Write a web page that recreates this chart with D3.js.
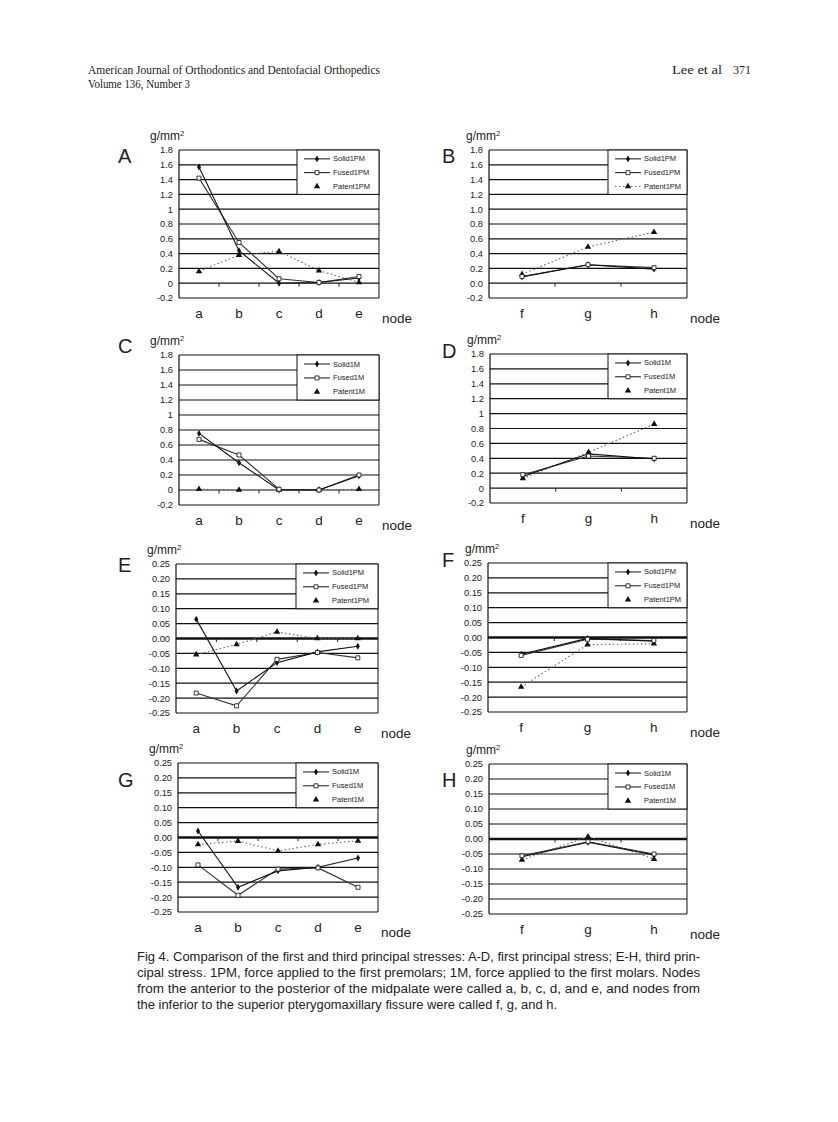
<!DOCTYPE html>
<html>
<head>
<meta charset="utf-8">
<script src="https://cdn.jsdelivr.net/npm/d3@7"></script>
<style>
  body { margin: 0; background: #fff; }
  svg text { font-family: "Liberation Sans", Arial, sans-serif; fill: #222; }
</style>
</head>
<body>
<svg id="page"></svg>
<script>
const W = 838, H = 1122;

// categories and ticks
const nodesMid = ["a", "b", "c", "d", "e"];
const nodesPtm = ["f", "g", "h"];
const ticksFirst = [-0.2, 0, 0.2, 0.4, 0.6, 0.8, 1, 1.2, 1.4, 1.6, 1.8];
const ticksThird = [-0.25, -0.2, -0.15, -0.1, -0.05, 0, 0.05, 0.1, 0.15, 0.2, 0.25];

// first principal stress, force on first premolars
const solidA = [1.57, 0.44, 0.0, 0.01, 0.07];
const fusedA = [1.42, 0.55, 0.06, 0.01, 0.09];
const patentA = [0.16, 0.38, 0.43, 0.17, 0.01];
const solidB = [0.085, 0.25, 0.19];
const fusedB = [0.09, 0.25, 0.21];
const patentB = [0.12, 0.49, 0.69];
// first principal stress, force on first molars
const solidC = [0.755, 0.364, 0.0, 0.0, 0.19];
const fusedC = [0.675, 0.467, 0.01, 0.0, 0.2];
const patentC = [0.01, 0.0, 0.0, 0.0, 0.01];
const solidD = [0.155, 0.46, 0.39];
const fusedD = [0.18, 0.43, 0.40];
const patentD = [0.13, 0.48, 0.86];
// third principal stress, first premolars
const solidE = [0.065, -0.176, -0.081, -0.045, -0.026];
const fusedE = [-0.183, -0.226, -0.07, -0.047, -0.065];
const patentE = [-0.054, -0.02, 0.022, 0.0, 0.0];
const solidF = [-0.056, -0.003, -0.012];
const fusedF = [-0.06, -0.006, -0.01];
const patentF = [-0.166, -0.024, -0.021];
// third principal stress, first molars
const solidG = [0.022, -0.167, -0.112, -0.1, -0.069];
const fusedG = [-0.092, -0.194, -0.106, -0.102, -0.167];
const patentG = [-0.023, -0.012, -0.045, -0.023, -0.011];
const solidH = [-0.059, -0.011, -0.053];
const fusedH = [-0.056, -0.009, -0.05];
const patentH = [-0.07, 0.008, -0.067];

const fmtPlain = d => String(+d.toFixed(1));
const fmtOne = d => d3.format(".1f")(d).replace("−", "-");
const fmtTwo = d => d3.format(".2f")(d).replace("−", "-");

const panels = [
  {id: "A", nodes: nodesMid, s: solidA, f: fusedA, p: patentA, tag: "1PM", ticks: ticksFirst, fmt: fmtPlain, r: [179, 379, 150, 298], thickZero: false, pLine: false},
  {id: "B", nodes: nodesPtm, s: solidB, f: fusedB, p: patentB, tag: "1PM", ticks: ticksFirst, fmt: fmtOne, r: [489, 687, 150, 298], thickZero: false, pLine: true},
  {id: "C", nodes: nodesMid, s: solidC, f: fusedC, p: patentC, tag: "1M", ticks: ticksFirst, fmt: fmtPlain, r: [179, 379, 355, 505], thickZero: false, pLine: false},
  {id: "D", nodes: nodesPtm, s: solidD, f: fusedD, p: patentD, tag: "1M", ticks: ticksFirst, fmt: fmtPlain, r: [490, 687, 354, 503], thickZero: false, pLine: false},
  {id: "E", nodes: nodesMid, s: solidE, f: fusedE, p: patentE, tag: "1PM", ticks: ticksThird, fmt: fmtTwo, r: [176, 378, 564, 713], thickZero: true, pLine: false},
  {id: "F", nodes: nodesPtm, s: solidF, f: fusedF, p: patentF, tag: "1PM", ticks: ticksThird, fmt: fmtTwo, r: [488, 687, 563, 712], thickZero: true, pLine: false},
  {id: "G", nodes: nodesMid, s: solidG, f: fusedG, p: patentG, tag: "1M", ticks: ticksThird, fmt: fmtTwo, r: [178, 378, 763, 912], thickZero: true, pLine: false},
  {id: "H", nodes: nodesPtm, s: solidH, f: fusedH, p: patentH, tag: "1M", ticks: ticksThird, fmt: fmtTwo, r: [489, 687, 764, 914], thickZero: true, pLine: false}
];

const svg = d3.select("#page").attr("width", W).attr("height", H);

// page header
const serif = "'Liberation Serif', 'Times New Roman', serif";
const header = [
  {t: "American Journal of Orthodontics and Dentofacial Orthopedics", x: 88, y: 74, w: 292},
  {t: "Volume 136, Number 3", x: 88, y: 88, w: 102},
  {t: "Lee et al", x: 672, y: 74, w: 50},
  {t: "371", x: 733, y: 74, w: 18}
];
svg.selectAll(".hdr").data(header).enter().append("text")
  .attr("x", d => d.x).attr("y", d => d.y).attr("font-size", 12.5)
  .attr("textLength", d => d.w).attr("lengthAdjust", "spacingAndGlyphs")
  .style("font-family", serif).attr("fill", "#222")
  .text(d => d.t);

const symDiamond = d3.symbol().type(d3.symbolDiamond).size(14);
const symSquare = d3.symbol().type(d3.symbolSquare).size(16);
const symTri = d3.symbol().type(d3.symbolTriangle).size(18);

function drawPanel(cfg) {
  const [x0, x1, y0, y1] = cfg.r;
  const g = svg.append("g");
  const band = d3.scaleBand().domain(cfg.nodes).range([x0, x1]);
  const x = d3.scalePoint().domain(cfg.nodes).range([x0, x1]).padding(0.5);
  const y = d3.scaleLinear().domain(d3.extent(cfg.ticks)).range([y1, y0]);

  // horizontal grid lines
  g.selectAll(".grid").data(cfg.ticks).enter().append("line")
    .attr("x1", x0).attr("x2", x1)
    .attr("y1", d => y(d)).attr("y2", d => y(d))
    .attr("stroke", "#111")
    .attr("stroke-width", d => (cfg.thickZero && Math.abs(d) < 1e-9) ? 2.4 : 1.2);
  // left and right frame
  g.append("line").attr("x1", x0).attr("x2", x0).attr("y1", y0).attr("y2", y1).attr("stroke", "#111").attr("stroke-width", 1.2);
  g.append("line").attr("x1", x1).attr("x2", x1).attr("y1", y0).attr("y2", y1).attr("stroke", "#111").attr("stroke-width", 1);

  // y tick labels
  const yAxis = d3.axisLeft(y).tickValues(cfg.ticks).tickFormat(cfg.fmt).tickSize(0).tickPadding(6);
  const ya = g.append("g").attr("transform", `translate(${x0},0)`).call(yAxis);
  ya.select(".domain").remove();
  ya.selectAll("text").attr("font-size", 9.3).style("font-family", "'Liberation Sans', Arial, sans-serif").attr("fill", "#222");

  // x axis on zero line: ticks at band edges
  const inner = cfg.nodes.slice(1).map(n => band(n));
  g.selectAll(".xt").data(inner).enter().append("line")
    .attr("x1", d => d).attr("x2", d => d)
    .attr("y1", y(0)).attr("y2", y(0) + 3.5)
    .attr("stroke", "#222").attr("stroke-width", 1);

  // category labels
  g.selectAll(".cat").data(cfg.nodes).enter().append("text")
    .attr("x", d => x(d)).attr("y", y1 + 20)
    .attr("text-anchor", "middle").attr("font-size", 13.5)
    .text(d => d);
  g.append("text").attr("x", x1 + 3).attr("y", y1 + 25).attr("font-size", 13.5).text("node");

  // unit label and panel letter
  const unit = g.append("text").attr("x", x0 - (cfg.nodes.length === 5 ? 29 : 23)).attr("y", y0 - 10).attr("font-size", 12);
  unit.append("tspan").text("g/mm");
  unit.append("tspan").attr("font-size", 7.5).attr("dy", -4).text("2");
  const lx = cfg.nodes.length === 5 ? 118 : 442;
  const ly = {A: 163, B: 163, C: 353, D: 358, E: 572, F: 567, G: 787, H: 787}[cfg.id];
  g.append("text").attr("x", lx).attr("y", ly).attr("font-size", 20).text(cfg.id);

  // series lines
  const line = d3.line().x((d, i) => x(cfg.nodes[i])).y(d => y(d));
  g.append("path").datum(cfg.p).attr("d", line).attr("fill", "none")
    .attr("stroke", "#666").attr("stroke-width", 1.1).attr("stroke-dasharray", "1.5,2.5");
  g.append("path").datum(cfg.f).attr("d", line).attr("fill", "none")
    .attr("stroke", "#333").attr("stroke-width", 1.1);
  g.append("path").datum(cfg.s).attr("d", line).attr("fill", "none")
    .attr("stroke", "#111").attr("stroke-width", 1.1);

  // markers
  g.selectAll(".mp").data(cfg.p).enter().append("path")
    .attr("d", symTri).attr("transform", (d, i) => `translate(${x(cfg.nodes[i])},${y(d)})`)
    .attr("fill", "#111");
  g.selectAll(".ms").data(cfg.s).enter().append("path")
    .attr("d", symDiamond).attr("transform", (d, i) => `translate(${x(cfg.nodes[i])},${y(d)})`)
    .attr("fill", "#111");
  g.selectAll(".mf").data(cfg.f).enter().append("path")
    .attr("d", symSquare).attr("transform", (d, i) => `translate(${x(cfg.nodes[i])},${y(d)})`)
    .attr("fill", "#fff").attr("stroke", "#222").attr("stroke-width", 0.9);

  // legend, spans the top three grid intervals
  const lw = cfg.nodes.length === 5 ? 82 : 79;
  const lh = y(cfg.ticks[cfg.ticks.length - 4]) - y0;
  const lg = g.append("g").attr("transform", `translate(${x1 - lw},${y0})`);
  lg.append("rect").attr("width", lw).attr("height", lh).attr("fill", "#fff").attr("stroke", "#111").attr("stroke-width", 1);
  const items = [
    {name: "Solid" + cfg.tag, sym: symDiamond, fill: "#111", line: true, dash: null},
    {name: "Fused" + cfg.tag, sym: symSquare, fill: "#fff", line: true, dash: null},
    {name: "Patent" + cfg.tag, sym: symTri, fill: "#111", line: cfg.pLine, dash: "1.5,2.5"}
  ];
  items.forEach((it, i) => {
    const yy = lh * (0.2 + i * 0.31);
    if (it.line) {
      lg.append("line").attr("x1", 7).attr("x2", 33).attr("y1", yy).attr("y2", yy)
        .attr("stroke", it.dash ? "#666" : "#111").attr("stroke-width", 1)
        .attr("stroke-dasharray", it.dash);
    }
    lg.append("path").attr("d", it.sym).attr("transform", `translate(20,${yy})`)
      .attr("fill", it.fill).attr("stroke", it.fill === "#fff" ? "#222" : "none").attr("stroke-width", 0.9);
    lg.append("text").attr("x", 36).attr("y", yy + 2.5).attr("font-size", 7.5).text(it.name);
  });
}

panels.forEach(drawPanel);

// caption
const captionLines = [
  "Fig 4.  Comparison of the first and third principal stresses: A-D, first principal stress; E-H, third prin-",
  "cipal stress. 1PM, force applied to the first premolars; 1M, force applied to the first molars. Nodes",
  "from the anterior to the posterior of the midpalate were called a, b, c, d, and e, and nodes from",
  "the inferior to the superior pterygomaxillary fissure were called f, g, and h."
];
const captionWidths = [563, 563, 563, 420];
svg.selectAll(".cap").data(captionLines).enter().append("text")
  .attr("x", 137).attr("y", (d, i) => 961 + i * 16)
  .attr("font-size", 12).attr("fill", "#333")
  .attr("textLength", (d, i) => captionWidths[i])
  .attr("lengthAdjust", "spacingAndGlyphs")
  .text(d => d);
</script>
</body>
</html>
